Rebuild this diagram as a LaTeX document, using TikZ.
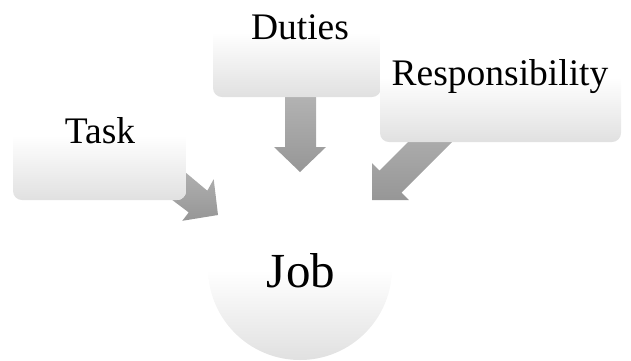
\documentclass[tikz,border=0pt]{standalone}
\usepackage{fontspec}
\setmainfont{Liberation Serif}
\begin{document}
\begin{tikzpicture}[x=1pt,y=-1pt,
  boxshade/.style={top color=white, bottom color=black!12},
  arrowshape/.style={top color=black!29, bottom color=black!41, draw=none},
  lbl/.style={anchor=base, inner sep=0pt, font=\fontsize{37.5}{42}\selectfont},
  joblbl/.style={anchor=base, inner sep=0pt, font=\fontsize{49}{56}\selectfont}]
\useasboundingbox (0,0) rectangle (631,360);
\begin{scope}
\clip (0,0) rectangle (631,360);
% arrows (behind boxes)
\shade[arrowshape] (285,90) -- (316,90) -- (316,147) -- (326,147) -- (300,172) -- (274,147) -- (285,147) -- cycle;
\shade[arrowshape] (152.8,185.3) -- (171.4,160.6) -- (207.3,190.7) -- (213.7,179.2) -- (218,215) -- (182.3,220.8) -- (188.7,212.4) -- cycle;
\shade[arrowshape] (460.8,133.2) -- (438.8,111.2) -- (379.4,170.6) -- (372,163.2) -- (372,200) -- (408.8,200) -- (401.4,192.6) -- cycle;
% boxes
\begin{scope}
\clip[rounded corners=9pt] (13,60) rectangle (186,200);
\fill[white] (13,60) rectangle (186,200);
\shade[boxshade] (13,135) rectangle (186,200);
\end{scope}
\begin{scope}
\clip[rounded corners=9pt] (213,-42) rectangle (381,97);
\fill[white] (213,-42) rectangle (381,97);
\shade[boxshade] (213,32) rectangle (381,97);
\end{scope}
\begin{scope}
\clip[rounded corners=9pt] (380,2) rectangle (621,142);
\fill[white] (380,2) rectangle (621,142);
\shade[boxshade] (380,77) rectangle (621,142);
\end{scope}
\begin{scope}
\clip (300,268) circle (92);
\fill[white] (208,176) rectangle (392,360);
\shade[boxshade] (208,270) rectangle (392,360);
\end{scope}
\end{scope}
\node[lbl] (task) at (100,143) {Task};
\node[lbl] (duties) at (300,39) {Duties};
\node[lbl] (resp) at (500,85) {Responsibility};
\node[joblbl] (job) at (301,287) {Job};
\end{tikzpicture}
\end{document}
